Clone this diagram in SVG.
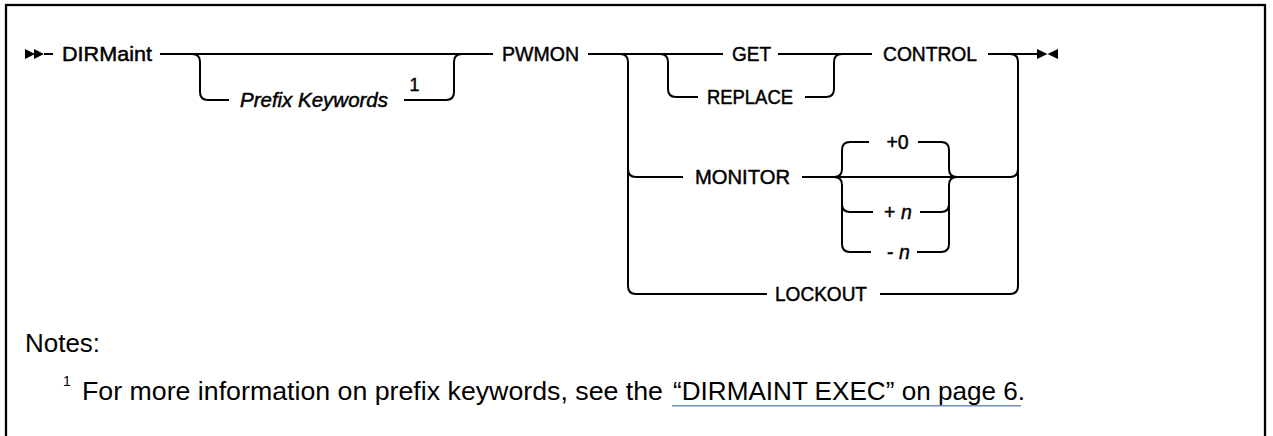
<svg xmlns="http://www.w3.org/2000/svg" width="1273" height="436" viewBox="0 0 1273 436">
<style>
.ln{fill:none;stroke:#000;stroke-width:2}
.lbl{font-family:"Liberation Sans",Arial,sans-serif;font-size:19.5px;fill:#000;stroke:#000;stroke-width:0.45;text-anchor:middle}
.it{font-style:italic}
.note{font-family:"Liberation Sans",Arial,sans-serif;font-size:25px;fill:#000}
.sup{font-family:"Liberation Sans",Arial,sans-serif;fill:#000}
.arr{fill:#000;stroke:none}
</style>
<rect x="6" y="5" width="1259" height="445" fill="#fff" stroke="#000" stroke-width="2.3"/>
<g id="connectors">
  <path class="ln" d="M44,54 H53"/>
  <path class="ln" d="M160,54 H493"/>
  <path class="ln" d="M588,54 H723"/>
  <path class="ln" d="M778,54 H872"/>
  <path class="ln" d="M988,54 H1038"/>
  <path class="ln" d="M192,54 Q200,54 200,62 V92 Q200,100 208,100 H229"/>
  <path class="ln" d="M404,100 H446 Q454,100 454,92 V62 Q454,54 462,54"/>
  <path class="ln" d="M620,54 Q628,54 628,62 V286 Q628,294 636,294 H767"/>
  <path class="ln" d="M628,169 Q628,177 636,177 H683"/>
  <path class="ln" d="M1010,54 Q1018,54 1018,62 V286 Q1018,294 1010,294 H880"/>
  <path class="ln" d="M1018,169 Q1018,177 1010,177 H802"/>
  <path class="ln" d="M660,54 Q668,54 668,62 V89 Q668,97 676,97 H698"/>
  <path class="ln" d="M805,97 H826 Q834,97 834,89 V62 Q834,54 842,54"/>
  <path class="ln" d="M834,177 Q842,177 842,169 V150 Q842,142 850,142 H869"/>
  <path class="ln" d="M834,177 Q842,177 842,185 V244 Q842,252 850,252 H871"/>
  <path class="ln" d="M842,204 Q842,212 850,212 H873"/>
  <path class="ln" d="M918,142 H941 Q949,142 949,150 V169 Q949,177 957,177"/>
  <path class="ln" d="M917,252 H941 Q949,252 949,244 V185 Q949,177 957,177"/>
  <path class="ln" d="M920,212 H941 Q949,212 949,204"/>
</g>
<g id="start">
  <polygon class="arr" points="25,49 35,54 25,59"/>
  <polygon class="arr" points="34,49 44,54 34,59"/>
</g>
<g id="end">
  <polygon class="arr" points="1037,49 1047.5,54 1037,59"/>
  <polygon class="arr" points="1058,49 1047.5,54 1058,59"/>
</g>
<g id="dirmaint"><text class="lbl" x="107" y="61" textLength="90" lengthAdjust="spacingAndGlyphs">DIRMaint</text></g>
<g id="prefix">
  <text class="lbl it" x="314" y="107" textLength="148" lengthAdjust="spacingAndGlyphs">Prefix Keywords</text>
  <text class="sup" x="414.5" y="91" font-size="18" text-anchor="middle" stroke="#000" stroke-width="0.4">1</text>
</g>
<g id="pwmon"><text class="lbl" x="540.5" y="61" textLength="77" lengthAdjust="spacingAndGlyphs">PWMON</text></g>
<g id="get"><text class="lbl" x="751.5" y="61" textLength="39" lengthAdjust="spacingAndGlyphs">GET</text></g>
<g id="replace"><text class="lbl" x="750" y="104" textLength="86" lengthAdjust="spacingAndGlyphs">REPLACE</text></g>
<g id="control"><text class="lbl" x="930" y="61" textLength="94" lengthAdjust="spacingAndGlyphs">CONTROL</text></g>
<g id="monitor"><text class="lbl" x="742.5" y="184" textLength="95" lengthAdjust="spacingAndGlyphs">MONITOR</text></g>
<g id="plus0"><text class="lbl" x="897.5" y="149">+0</text></g>
<g id="plusn"><text class="lbl" x="884" y="219" style="text-anchor:start">+<tspan class="it" x="901">n</tspan></text></g>
<g id="minusn"><text class="lbl" x="887" y="259" style="text-anchor:start">-<tspan class="it" x="899">n</tspan></text></g>
<g id="lockout"><text class="lbl" x="821" y="301" textLength="92" lengthAdjust="spacingAndGlyphs">LOCKOUT</text></g>
<g id="notes">
  <text class="note" x="25" y="352" textLength="75" lengthAdjust="spacingAndGlyphs">Notes:</text>
  <text class="sup" x="63" y="386" font-size="14">1</text>
  <text class="note" x="82" y="400" textLength="581" lengthAdjust="spacingAndGlyphs">For more information on prefix keywords, see the</text>
  <text class="note" x="673" y="400" textLength="352" lengthAdjust="spacingAndGlyphs">“DIRMAINT EXEC” on page 6.</text>
  <line x1="672" y1="405.7" x2="1021" y2="405.7" stroke="#6f8dc6" stroke-width="1.6"/>
</g>
</svg>
